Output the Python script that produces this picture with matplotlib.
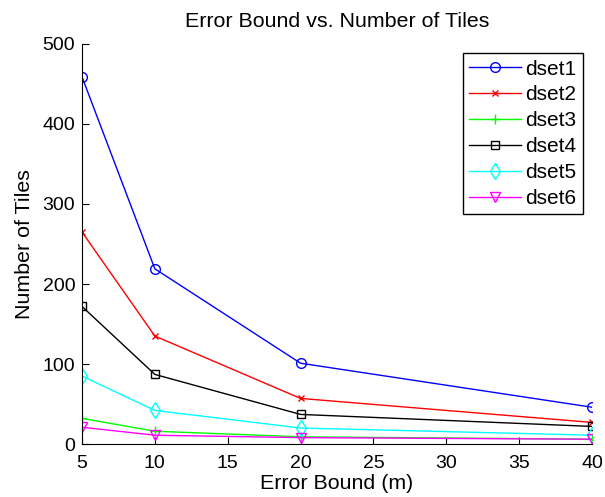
import matplotlib
matplotlib.use("Agg")
import matplotlib.pyplot as plt

plt.rcParams["font.family"] = ["Liberation Sans", "DejaVu Sans"]

error_bound = [5, 10, 20, 40]
dset1 = [459, 219, 101, 46]
dset2 = [265, 135, 57, 27]
dset3 = [32, 16, 9, 6]
dset4 = [172, 87, 37, 22]
dset5 = [85, 42, 20, 11]
dset6 = [21, 11, 8, 6]

# label, values, colour, marker, marker size
series = [
    ("dset1", dset1, "blue", "o", 7),
    ("dset2", dset2, "red", "x", 5),
    ("dset3", dset3, "#00ff00", "+", 7),
    ("dset4", dset4, "black", "s", 6),
    ("dset5", dset5, "cyan", "d", 8.5),
    ("dset6", dset6, "magenta", "v", 7.5),
]

fig = plt.figure(figsize=(6.05, 4.97), dpi=100)
ax = fig.add_axes([0.1355, 0.1066, 0.843, 0.8049])

for label, values, color, marker, ms in series:
    ax.plot(error_bound, values, color=color, marker=marker, markersize=ms,
            markerfacecolor="none", markeredgecolor=color, linewidth=1,
            markeredgewidth=1, label=label)

ax.set_xlim(5, 40)
ax.set_ylim(0, 500)
ax.set_xticks(range(5, 41, 5))
ax.set_yticks(range(0, 501, 100))
ax.spines["top"].set_visible(False)
ax.spines["right"].set_visible(False)
ax.tick_params(direction="in", labelsize=14, length=5)
ax.tick_params(axis="x", pad=8)
ax.tick_params(axis="y", pad=4.8)
ax.set_xlabel("Error Bound (m)", fontsize=15.4, labelpad=1.5)
ax.set_ylabel("Number of Tiles", fontsize=15.4, labelpad=6.5)
ax.set_title("Error Bound vs. Number of Tiles", fontsize=15.4, pad=12)

leg = ax.legend(loc="upper right", fontsize=15, fancybox=False, framealpha=1,
                edgecolor="black", handlelength=2.5, borderaxespad=0.45,
                handletextpad=0.2, labelspacing=0.33, borderpad=0.3)
leg.get_frame().set_linewidth(1)

fig.savefig("out.png", dpi=100)
